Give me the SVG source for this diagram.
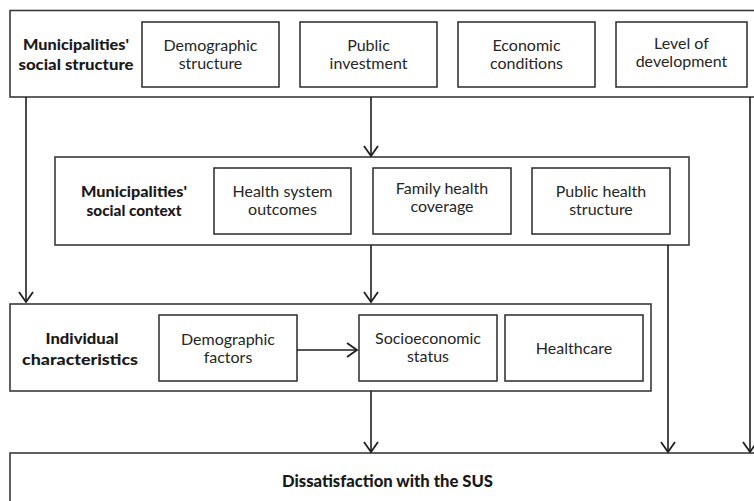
<svg xmlns="http://www.w3.org/2000/svg" width="754" height="501" viewBox="0 0 754 501">
  <style>
    .outer { fill: #ffffff; stroke: #3a3a3a; stroke-width: 1.6; }
    .box { fill: #ffffff; stroke: #2a2a2a; stroke-width: 1.5; }
    .lbl { font-family: Lato, "Open Sans", "DejaVu Sans", sans-serif; font-size: 16px; fill: #262626; text-anchor: middle; }
    .head { font-family: Lato, "Open Sans", "DejaVu Sans", sans-serif; font-weight: 900; font-size: 15.5px; fill: #1a1a1a; text-anchor: middle; }
    .conn { stroke: #1e1e1e; stroke-width: 1.6; fill: none; }
  </style>
  <defs>
    <marker id="arrow" markerUnits="userSpaceOnUse" markerWidth="20" markerHeight="20" viewBox="-12 -10 14 20" refX="0" refY="0" orient="auto">
      <path d="M-10,-7 L0,0 L-10,7" fill="none" stroke="#1e1e1e" stroke-width="1.8"/>
    </marker>
  </defs>

  <rect width="754" height="501" fill="#ffffff"/>

  <!-- Municipalities' social structure -->
  <g id="social-structure">
    <rect class="outer" x="10" y="10.5" width="760" height="86.5"/>
    <text class="head" x="76" y="50" textLength="106" lengthAdjust="spacingAndGlyphs">Municipalities'</text>
    <text class="head" x="76" y="70" textLength="115" lengthAdjust="spacingAndGlyphs">social structure</text>
  </g>
  <g id="demographic-structure">
    <rect class="box" x="142" y="22" width="137" height="65"/>
    <text class="lbl" x="210.5" y="51">Demographic</text>
    <text class="lbl" x="210.5" y="69">structure</text>
  </g>
  <g id="public-investment">
    <rect class="box" x="300" y="22" width="137" height="65"/>
    <text class="lbl" x="368.5" y="51">Public</text>
    <text class="lbl" x="368.5" y="69">investment</text>
  </g>
  <g id="economic-conditions">
    <rect class="box" x="458" y="22" width="137" height="65"/>
    <text class="lbl" x="526.5" y="51">Economic</text>
    <text class="lbl" x="526.5" y="69">conditions</text>
  </g>
  <g id="level-of-development">
    <rect class="box" x="616" y="22" width="131" height="65"/>
    <text class="lbl" x="681.5" y="49">Level of</text>
    <text class="lbl" x="681.5" y="67">development</text>
  </g>

  <!-- Municipalities' social context -->
  <g id="social-context">
    <rect class="outer" x="55" y="157" width="634" height="88"/>
    <text class="head" x="134" y="197" textLength="106" lengthAdjust="spacingAndGlyphs">Municipalities'</text>
    <text class="head" x="134" y="216" textLength="95" lengthAdjust="spacingAndGlyphs">social context</text>
  </g>
  <g id="health-system-outcomes">
    <rect class="box" x="214" y="168" width="137" height="66"/>
    <text class="lbl" x="282.5" y="197">Health system</text>
    <text class="lbl" x="282.5" y="215">outcomes</text>
  </g>
  <g id="family-health-coverage">
    <rect class="box" x="373" y="168" width="138" height="66"/>
    <text class="lbl" x="442" y="194">Family health</text>
    <text class="lbl" x="442" y="212">coverage</text>
  </g>
  <g id="public-health-structure">
    <rect class="box" x="532" y="168" width="138" height="66"/>
    <text class="lbl" x="601" y="197">Public health</text>
    <text class="lbl" x="601" y="215">structure</text>
  </g>

  <!-- Individual characteristics -->
  <g id="individual">
    <rect class="outer" x="10" y="304" width="641" height="87"/>
    <text class="head" x="82" y="344" textLength="73" lengthAdjust="spacingAndGlyphs">Individual</text>
    <text class="head" x="80" y="365" textLength="116" lengthAdjust="spacingAndGlyphs">characteristics</text>
  </g>
  <g id="demographic-factors">
    <rect class="box" x="159" y="315" width="138" height="66"/>
    <text class="lbl" x="228" y="345">Demographic</text>
    <text class="lbl" x="228" y="363">factors</text>
  </g>
  <g id="socioeconomic-status">
    <rect class="box" x="359" y="315" width="138" height="66"/>
    <text class="lbl" x="428" y="344">Socioeconomic</text>
    <text class="lbl" x="428" y="362">status</text>
  </g>
  <g id="healthcare">
    <rect class="box" x="505" y="315" width="138" height="66"/>
    <text class="lbl" x="574" y="354">Healthcare</text>
  </g>

  <!-- Outcome -->
  <g id="dissatisfaction">
    <rect class="outer" x="10" y="453" width="760" height="60"/>
    <text class="head" x="387.5" y="487" textLength="211" lengthAdjust="spacingAndGlyphs" style="font-size:16.5px">Dissatisfaction with the SUS</text>
  </g>

  <!-- Connectors -->
  <g id="connectors">
    <line class="conn" x1="26" y1="97" x2="26" y2="302" marker-end="url(#arrow)"/>
    <line class="conn" x1="371" y1="97" x2="371" y2="156" marker-end="url(#arrow)"/>
    <line class="conn" x1="371" y1="245" x2="371" y2="302" marker-end="url(#arrow)"/>
    <line class="conn" x1="371" y1="391" x2="371" y2="452" marker-end="url(#arrow)"/>
    <line class="conn" x1="668" y1="245" x2="668" y2="452" marker-end="url(#arrow)"/>
    <line class="conn" x1="750" y1="97" x2="750" y2="452" marker-end="url(#arrow)"/>
    <line class="conn" x1="297" y1="350" x2="357" y2="350" marker-end="url(#arrow)"/>
  </g>
</svg>
